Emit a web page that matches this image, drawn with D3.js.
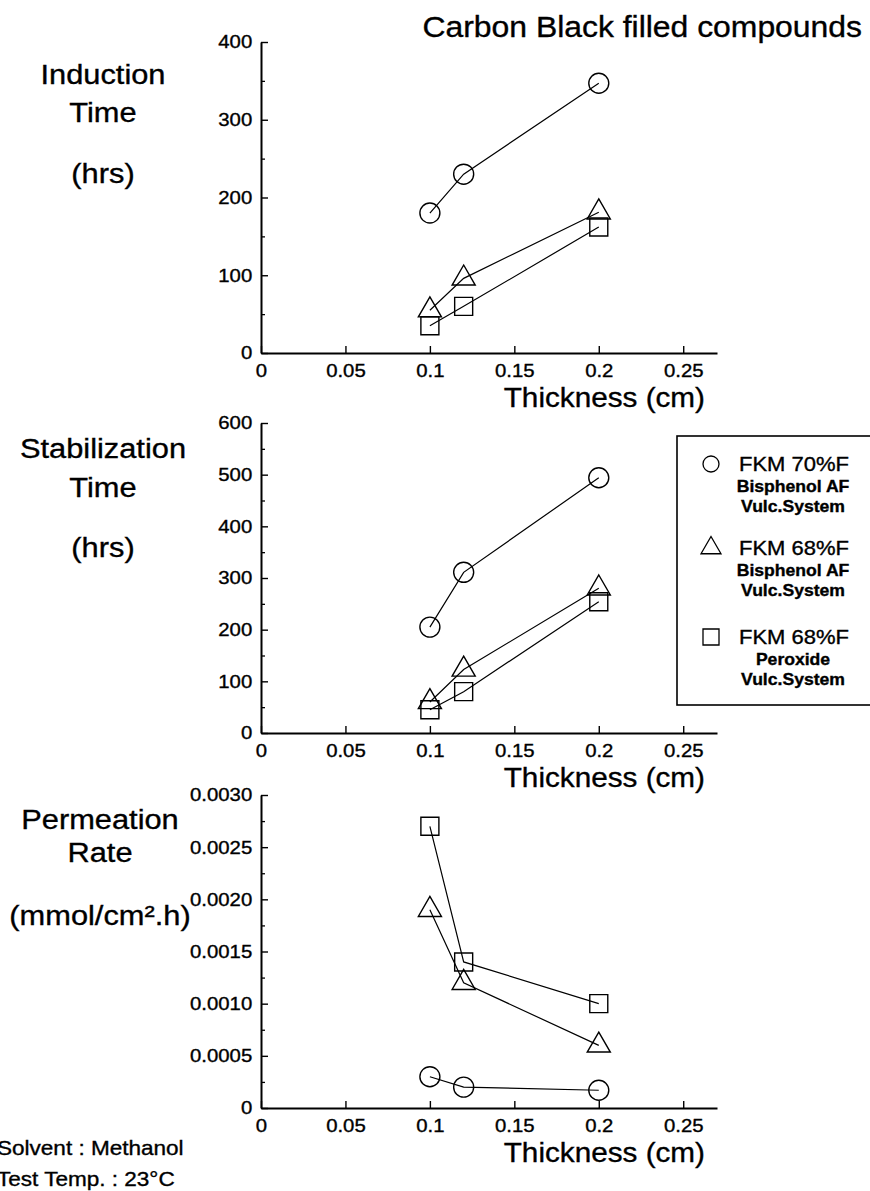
<!DOCTYPE html>
<html>
<head>
<meta charset="utf-8">
<script src="https://cdn.jsdelivr.net/npm/d3@7"></script>
<style>
  body { margin: 0; background: #fff; }
  svg { display: block; }
  text { stroke: #000; stroke-width: 0.35px; }
</style>
</head>
<body>
<div id="chart"></div>
<script>

// thickness of the specimens (cm)
var thickness = [0.1, 0.12, 0.2];

// induction time (hrs)
var induction70 = [180, 230, 347];
var induction68bis = [55, 96, 181];
var induction68per = [35, 60, 162];

// stabilization time (hrs)
var stab70 = [205, 311, 494];
var stab68bis = [60, 123, 280];
var stab68per = [45, 80, 254];

// permeation rate (mmol/cm2.h)
var perm70 = [0.0003, 0.0002, 0.00017];
var perm68bis = [0.0019, 0.0012, 0.0006];
var perm68per = [0.0027, 0.0014, 0.0010];

var xTicks = [0, 0.05, 0.1, 0.15, 0.2, 0.25];
var inductionTicks = [0, 100, 200, 300, 400];
var stabTicks = [0, 100, 200, 300, 400, 500, 600];
var permTicks = [0, 0.0005, 0.0010, 0.0015, 0.0020, 0.0025, 0.0030];

var seriesNames = ["FKM 70%F", "FKM 68%F", "FKM 68%F"];
var seriesSub = [["Bisphenol AF", "Vulc.System"], ["Bisphenol AF", "Vulc.System"], ["Peroxide", "Vulc.System"]];

var width = 870, height = 1191;
var font = "'Liberation Sans', Arial, Helvetica, sans-serif";
var sx = 1.1; // the scanned lettering is a little wider than Arial

var svg = d3.select("#chart")
  .append("svg")
    .attr("width", width)
    .attr("height", height)
    .style("background", "#fff");

function label(g, x, y, str, size, anchor, weight) {
  return g.append("text")
    .attr("transform", "translate(" + x + "," + y + ") scale(" + sx + ",1)")
    .attr("text-anchor", anchor || "middle")
    .style("font-family", font)
    .style("font-size", size + "px")
    .style("font-weight", weight || "normal")
    .style("fill", "#000")
    .text(str);
}

var x = d3.scaleLinear().domain([0, 0.27]).range([261, 717]);

var shapes = [d3.symbolCircle, d3.symbolTriangle, d3.symbolSquare];
var shapeSize = [Math.PI * 100, 231, 324];

var panels = [
  { top: 42, bottom: 353, max: 400, ticks: inductionTicks, minorStep: 50,
    fmt: d3.format("d"), series: [induction70, induction68bis, induction68per],
    title: ["Induction", "Time", "(hrs)"], titleY: [84, 122, 183], titleX: 103 },
  { top: 423, bottom: 733, max: 600, ticks: stabTicks, minorStep: 50,
    fmt: d3.format("d"), series: [stab70, stab68bis, stab68per],
    title: ["Stabilization", "Time", "(hrs)"], titleY: [458, 497, 557], titleX: 103 },
  { top: 795, bottom: 1108, max: 0.003, ticks: permTicks, minorStep: 0.00025,
    fmt: function(d) { return d === 0 ? "0" : d3.format(".4f")(d); },
    series: [perm70, perm68bis, perm68per],
    title: ["Permeation", "Rate", "(mmol/cm\u00b2.h)"], titleY: [829, 862, 925], titleX: 100 }
];

panels.forEach(function(p) {
  var y = d3.scaleLinear().domain([0, p.max]).range([p.bottom, p.top]);
  var g = svg.append("g");

  // minor ticks on the y axis
  var minor = d3.range(p.minorStep, p.max, p.minorStep * 2);
  g.append("g")
    .attr("transform", "translate(" + x(0) + ",0)")
    .call(d3.axisLeft(y).tickValues(minor).tickSize(-4).tickFormat(""))
    .call(function(a) { a.select(".domain").remove(); })
    .selectAll("line").attr("stroke-width", 1.3);

  var yAxis = g.append("g")
    .attr("transform", "translate(" + x(0) + ",0)")
    .call(d3.axisLeft(y).tickValues(p.ticks).tickSize(-7).tickSizeOuter(0).tickPadding(8).tickFormat(p.fmt));

  var xAxis = g.append("g")
    .attr("transform", "translate(0," + p.bottom + ")")
    .call(d3.axisBottom(x).tickValues(xTicks).tickSize(-7).tickSizeOuter(0).tickPadding(11).tickFormat(d3.format("~g")));

  [yAxis, xAxis].forEach(function(a) {
    a.select(".domain").attr("stroke-width", 2);
    a.selectAll(".tick line").attr("stroke-width", 1.4);
    a.selectAll(".tick text")
      .attr("transform", "scale(" + sx + ",1)")
      .style("font-family", font)
      .style("font-size", "18.5px")
      .style("fill", "#000");
  });

  label(g, 705, p.bottom + 54, "Thickness (cm)", 27, "end");

  p.title.forEach(function(t, i) {
    label(g, p.titleX, p.titleY[i], t, 28, "middle");
  });

  var line = d3.line()
    .x(function(d) { return x(d[0]); })
    .y(function(d) { return y(d[1]); });

  p.series.forEach(function(vals, si) {
    var pts = thickness.map(function(t, i) { return [t, vals[i]]; });
    g.append("path")
      .datum(pts)
      .attr("d", line)
      .attr("fill", "none")
      .attr("stroke", "#000")
      .attr("stroke-width", 1.2);
    g.selectAll(".m" + si)
      .data(pts)
      .enter()
      .append("path")
        .attr("transform", function(d) { return "translate(" + x(d[0]) + "," + y(d[1]) + ")"; })
        .attr("d", d3.symbol().type(shapes[si]).size(shapeSize[si]))
        .attr("fill", "none")
        .attr("stroke", "#000")
        .attr("stroke-width", 1.4);
  });
});

// title
label(svg, 862, 37, "Carbon Black filled compounds", 29, "end");

// legend
var lg = svg.append("g");
lg.append("rect")
  .attr("x", 677).attr("y", 436)
  .attr("width", 220).attr("height", 269)
  .attr("fill", "#fff")
  .attr("stroke", "#000")
  .attr("stroke-width", 1.6);

var legendY = [464, 548, 637];
var legendSize = [Math.PI * 64, 173, 256];
seriesNames.forEach(function(name, i) {
  lg.append("path")
    .attr("transform", "translate(711," + legendY[i] + ")")
    .attr("d", d3.symbol().type(shapes[i]).size(legendSize[i]))
    .attr("fill", "none")
    .attr("stroke", "#000")
    .attr("stroke-width", 1.3);
  label(lg, 739, legendY[i] + 7, name, 20, "start");
  label(lg, 793, legendY[i] + 28, seriesSub[i][0], 16, "middle", "bold");
  label(lg, 793, legendY[i] + 48, seriesSub[i][1], 16, "middle", "bold");
});

// test conditions
label(svg, -3, 1155, "Solvent : Methanol", 20.5, "start");
label(svg, -3, 1186, "Test Temp. : 23\u00b0C", 20.5, "start");

</script>
</body>
</html>
